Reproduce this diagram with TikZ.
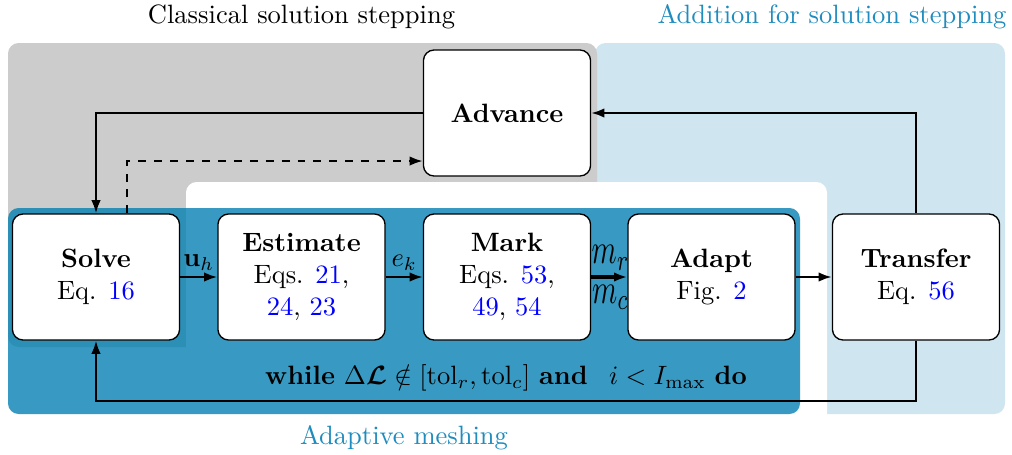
\documentclass[tikz,border=0pt]{standalone}
\usepackage{amsmath,amssymb,graphicx}
\usetikzlibrary{arrows.meta}
\definecolor{regblue}{RGB}{0,126,177}
\definecolor{lblue}{RGB}{207,229,239}
\definecolor{greyreg}{RGB}{204,204,204}
\definecolor{labblue}{RGB}{30,140,190}
\definecolor{refblue}{RGB}{0,0,255}
\newcommand{\myref}[1]{\textcolor{refblue}{#1}}
\begin{document}
\begin{tikzpicture}[x=0.377pt,y=-0.377pt,
  box/.style={draw=black, fill=white, rounded corners=4pt, minimum width=63pt,
    minimum height=47.5pt, align=center, line width=0.5pt, inner sep=0pt},
  arr/.style={line width=0.8pt, -{Latex[length=5pt,width=3.6pt]}},
  region/.style={rounded corners=4pt},
  title/.style={inner sep=0pt}]
\useasboundingbox (0,0) rectangle (1012,454);
% regions
\fill[lblue, region] (595,43) rectangle (1005,414);
\fill[greyreg, region] (8,43) rectangle (597,347);
\fill[white, region] (186,182) rectangle (827,440);
\fill[regblue, fill opacity=0.78, region] (8,208) rectangle (800,414);
% titles
\node[title] (tc) at (301.5,17) {Classical solution stepping};
\node[title, text=labblue, anchor=east] (ta) at (1007,17) {Addition for solution stepping};
\node[title, text=labblue] (tm) at (404,438) {Adaptive meshing};
% nodes
\node[box] (adv) at (507,113) {\textbf{Advance}};
\node[box] (solve) at (96,277) {\textbf{Solve}\\Eq. \myref{16}};
\node[box] (est) at (301.5,277) {\textbf{Estimate}\\Eqs. \myref{21},\\\myref{24}, \myref{23}};
\node[box] (mark) at (507,277) {\textbf{Mark}\\Eqs. \myref{53},\\\myref{49}, \myref{54}};
\node[box] (adapt) at (711.5,277) {\textbf{Adapt}\\Fig. \myref{2}};
\node[box] (tr) at (916,277) {\textbf{Transfer}\\Eq. \myref{56}};
% connectors
\draw[arr] (adv.west) -| (solve.north);
\draw[arr, dashed] ([xshift=11.7pt]solve.north) |- ([yshift=-18.1pt]adv.west);
\draw[arr] (tr.north) |- (adv.east);
\draw[arr] (solve.east) -- node[above, inner sep=2pt] {$\mathbf{u}_h$} (est.west);
\draw[arr] (est.east) -- node[above, inner sep=2pt] {$e_k$} (mark.west);
\draw[arr, line width=1.2pt] (mark.east) --
  node[above, inner sep=2pt, xshift=0.5pt] {\scalebox{1.08}[1.6]{$m_r$}}
  node[below, inner sep=2.5pt, xshift=0.5pt] {\scalebox{1.08}[1.6]{$m_c$}} (adapt.west);
\draw[arr] (adapt.east) -- (tr.west);
\draw[arr] (tr.south) -- ++(0,60) coordinate (lp) -| (solve.south);
\node[inner sep=0pt] (wh) at (506,378) {\textbf{while} $\Delta\boldsymbol{\mathcal{L}} \notin [\mathrm{tol}_r, \mathrm{tol}_c]$ \textbf{and}\hspace{8pt}$i < I_{\max}$ \textbf{do}};
\end{tikzpicture}
\end{document}
